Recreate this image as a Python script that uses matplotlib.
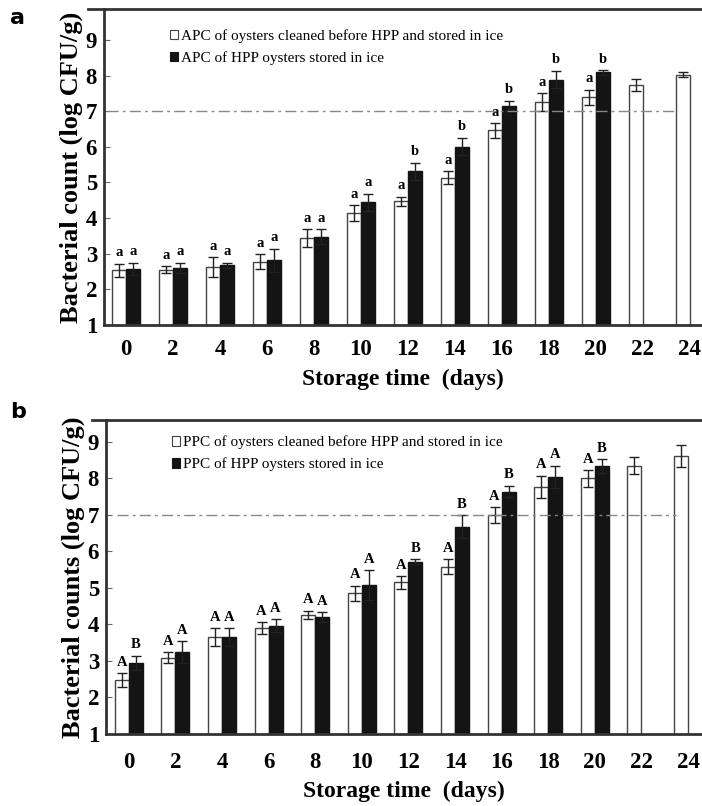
import numpy as np
import matplotlib
matplotlib.use("Agg")
import matplotlib.pyplot as plt
from matplotlib.lines import Line2D
from matplotlib.patches import Patch

days = ["0", "2", "4", "6", "8", "10", "12", "14", "16", "18", "20", "22", "24"]

# panel a: aerobic plate count
apc_clean = [2.53, 2.55, 2.62, 2.78, 3.45, 4.14, 4.47, 5.14, 6.46, 7.25, 7.39, 7.74, 8.03]
apc_clean_err = [0.19, 0.10, 0.28, 0.20, 0.25, 0.22, 0.13, 0.18, 0.21, 0.25, 0.22, 0.16, 0.08]
apc_hpp = [2.58, 2.60, 2.68, 2.82, 3.48, 4.44, 5.31, 6.01, 7.16, 7.89, 8.09]
apc_hpp_err = [0.17, 0.15, 0.07, 0.32, 0.22, 0.25, 0.25, 0.25, 0.14, 0.25, 0.07]
apc_clean_lbl = ["a"] * 11
apc_hpp_lbl = ["a", "a", "a", "a", "a", "a", "b", "b", "b", "b", "b"]

# panel b: psychrotrophic plate count
ppc_clean = [2.48, 3.09, 3.65, 3.91, 4.26, 4.85, 5.15, 5.58, 7.00, 7.76, 8.00, 8.35, 8.62]
ppc_clean_err = [0.18, 0.15, 0.25, 0.16, 0.12, 0.21, 0.18, 0.20, 0.21, 0.31, 0.23, 0.23, 0.30]
ppc_hpp = [2.94, 3.25, 3.65, 3.97, 4.20, 5.08, 5.72, 6.68, 7.64, 8.05, 8.34]
ppc_hpp_err = [0.20, 0.30, 0.25, 0.17, 0.13, 0.41, 0.06, 0.31, 0.16, 0.30, 0.19]
ppc_clean_lbl = ["A"] * 11
ppc_hpp_lbl = ["B", "A", "A", "A", "A", "A", "B", "B", "B", "A", "B"]

limit = 7.0

serif = ["Liberation Serif", "DejaVu Serif"]
plt.rcParams["font.family"] = serif

fig = plt.figure(figsize=(7.02, 8.06), dpi=100)


def draw_panel(ax, clean, clean_err, hpp, hpp_err, clean_lbl, hpp_lbl,
               names, ylabel, ytop, xlim, line_x0, leg_y, tick_pad, xlab_y):
    w = 0.3
    x = np.arange(len(days))
    xh = np.arange(len(hpp))
    ekw = dict(ecolor="#222222", elinewidth=1.0, capsize=3.5, capthick=1.0)
    ax.bar(x - w, clean, width=w, align="edge", color="white",
           edgecolor="#444444", linewidth=1.0, yerr=clean_err,
           error_kw=ekw, label=names[0])
    ax.bar(xh, hpp, width=w, align="edge", color="#141414",
           edgecolor="#141414", linewidth=1.0, yerr=hpp_err,
           error_kw=ekw, label=names[1])
    # significance letters
    for i, t in enumerate(clean_lbl):
        ax.text(i - w / 2, clean[i] + clean_err[i] + 0.12, t, ha="center",
                va="bottom", fontsize=10.5, fontweight="bold")
    for i, t in enumerate(hpp_lbl):
        ax.text(i + w / 2, hpp[i] + hpp_err[i] + 0.12, t, ha="center",
                va="bottom", fontsize=10.5, fontweight="bold")
    ax.plot([line_x0, 11.75], [limit, limit], color="#888888", lw=1.0,
            ls=(0, (8, 3, 2, 3)))
    ax.set_xlim(*xlim)
    ax.set_ylim(1, ytop)
    ax.set_yticks(range(1, 10))
    ax.set_xticks(x)
    ax.set_xticklabels(days)
    ax.tick_params(axis="x", length=0, pad=tick_pad, labelsize=16.5)
    ax.tick_params(axis="y", direction="in", length=4, width=0.8,
                   labelsize=16.5, pad=5, color="#666666")
    for lab in ax.get_xticklabels() + ax.get_yticklabels():
        lab.set_fontweight("bold")
    ax.set_ylabel(ylabel, fontsize=19, fontweight="bold", labelpad=2)
    ax.set_xlabel("Storage time  (days)", fontsize=17, fontweight="bold")
    ax.xaxis.set_label_coords(0.5, xlab_y)
    for s in ["top", "right"]:
        ax.spines[s].set_visible(False)
    for s in ["left", "bottom"]:
        ax.spines[s].set_linewidth(2.0)
        ax.spines[s].set_color("#333333")
    handles = [Patch(facecolor="white", edgecolor="#444444", lw=0.8),
               Patch(facecolor="#141414", edgecolor="#141414", lw=0.8)]
    ax.legend(handles, names, loc="upper left", bbox_to_anchor=(0.1, leg_y),
              frameon=False, fontsize=11, handlelength=0.55, handleheight=0.55,
              handletextpad=0.2, labelspacing=0.55, borderaxespad=0.0)


ax1 = fig.add_axes([104 / 702, 1 - 325 / 806, 1 - 104 / 702, (325 - 9) / 806])
draw_panel(ax1, apc_clean, apc_clean_err, apc_hpp, apc_hpp_err,
           apc_clean_lbl, apc_hpp_lbl,
           ["APC of oysters cleaned before HPP and stored in ice",
            "APC of HPP oysters stored in ice"],
           "Bacterial count (log CFU/g)", 9.87, (-0.47, 12.26), -0.4,
           0.955, 10, -0.14)

ax2 = fig.add_axes([106 / 702, 1 - 734 / 806, 1 - 106 / 702, (734 - 420) / 806])
draw_panel(ax2, ppc_clean, ppc_clean_err, ppc_hpp, ppc_hpp_err,
           ppc_clean_lbl, ppc_hpp_lbl,
           ["PPC of oysters cleaned before HPP and stored in ice",
            "PPC of HPP oysters stored in ice"],
           "Bacterial counts (log CFU/g)", 9.6, (-0.49, 12.3), -0.25,
           0.97, 13, -0.15)

# top border lines reach a little left of the y axis
fig.add_artist(Line2D([88 / 702, 1], [1 - 9 / 806, 1 - 9 / 806],
                      color="#333333", lw=2.0))
fig.add_artist(Line2D([92 / 702, 1], [1 - 420 / 806, 1 - 420 / 806],
                      color="#333333", lw=2.0))

fig.text(10 / 702, 1 - 18 / 806, "a", fontsize=16, fontweight="bold",
         family="DejaVu Sans", va="center")
fig.text(10 / 702, 1 - 412 / 806, "b", fontsize=16, fontweight="bold",
         family="DejaVu Sans", va="center")

fig.savefig("out.png", dpi=100)
